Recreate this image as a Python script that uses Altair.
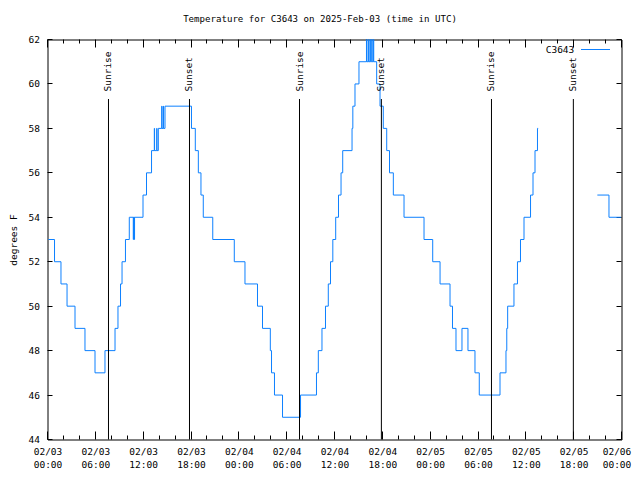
import altair as alt
import pandas as pd

title_text = "Temperature for C3643 on 2025-Feb-03 (time in UTC)"
station = "C3643"
y_title = "degrees F"

# hours since 2025-02-03 00:00 UTC, and the temperature (F) from that time on
hours_a = [
    0.10, 0.88, 1.69, 2.45, 3.45, 4.70, 5.96, 7.21,
    8.47, 8.84, 9.16, 9.35, 9.78, 10.26,
    10.76, 10.79, 10.89, 10.92,
    11.98, 12.42, 13.05,
    13.40, 13.43, 13.70, 13.73, 13.90,
    14.33, 14.36, 14.53, 14.56, 14.74,
    18.06, 18.54, 18.92, 19.25, 19.54, 20.73, 23.43,
    24.77, 26.34, 26.97, 27.95, 28.10, 28.47, 29.48,
    31.74, 33.74, 33.97, 34.43, 34.87, 35.22, 35.50,
    35.79, 36.15, 36.50, 36.82, 37.03, 38.20, 38.30, 38.57, 39.07,
    40.01, 40.06, 40.24, 40.29, 40.45, 40.50, 40.67, 40.72, 40.87, 40.92,
    41.29, 41.71, 42.12, 42.55, 42.90, 43.38, 44.72, 47.23,
    48.32, 49.24, 50.49, 50.80, 51.24, 51.99, 52.74, 53.62, 54.16,
    56.76, 57.51, 57.61, 57.72, 58.51, 58.95, 59.33, 59.77,
    60.59, 60.90, 61.15, 61.46, 61.55,
]
temps_a = [
    53, 52, 51, 50, 49, 48, 47, 48,
    49, 50, 51, 52, 53, 54,
    53, 54, 53, 54,
    55, 56, 57,
    58, 57, 58, 57, 58,
    59, 58, 59, 58, 59,
    58, 57, 56, 55, 54, 53, 52,
    51, 50, 49, 48, 47, 46, 45,
    46, 47, 48, 49, 50, 51, 52,
    53, 54, 55, 56, 57, 58, 59, 60, 61,
    62, 61, 62, 61, 62, 61, 62, 61, 62, 61,
    60, 59, 58, 57, 56, 55, 54, 53,
    52, 51, 50, 49, 48, 49, 48, 47, 46,
    47, 48, 49, 50, 51, 52, 53, 54,
    55, 56, 57, 58, 58,
]
hours_b = [68.97, 70.43, 71.94]
temps_b = [55, 54, 54]

sun_hours = [7.65, 17.81, 31.61, 41.88, 55.69, 65.96]
sun_labels = ["Sunrise", "Sunset", "Sunrise", "Sunset", "Sunrise", "Sunset"]

x_major = [0, 6, 12, 18, 24, 30, 36, 42, 48, 54, 60, 66, 72]
x_minor = [2, 4, 8, 10, 14, 16, 20, 22, 26, 28, 32, 34, 38, 40, 44, 46, 50, 52, 56, 58, 62, 64, 68, 70]
y_ticks = [44, 46, 48, 50, 52, 54, 56, 58, 60, 62]

FONT = "DejaVu Sans Mono"
FS = 9.5
BLUE = "#0d80ff"

df = pd.DataFrame({
    "h": hours_a + hours_b,
    "t": temps_a + temps_b,
    "seg": ["a"] * len(hours_a) + ["b"] * len(hours_b),
})
sun_df = pd.DataFrame({"h": sun_hours, "label": sun_labels})

xs = alt.Scale(domain=[0, 72], nice=False, zero=False)
ys = alt.Scale(domain=[44, 62], nice=False, zero=False)

label_expr = ("['02/0' + (3 + floor(datum.value / 24)), "
              "(datum.value % 24 < 10 ? '0' : '') + (datum.value % 24) + ':00']")

x_label_axis = alt.Axis(orient="bottom", values=x_major, labelExpr=label_expr, ticks=False,
                        domain=False, grid=False, labelFlush=False, labelOverlap=False,
                        labelPadding=7, labelBaseline="top", labelLineHeight=13,
                        labelOffset={"condition": {"test": "datum.value == 72", "value": -5},
                                     "value": 0},
                        labelFont=FONT, labelFontSize=FS, labelColor="black", title=None)
y_label_axis = alt.Axis(orient="left", values=y_ticks, ticks=False, domain=False, grid=False,
                        labelPadding=8, labelFont=FONT, labelFontSize=FS, labelColor="black",
                        labelFlush=False, labelOverlap=False, title=None)

line = alt.Chart(df).mark_line(interpolate="step-after", color=BLUE, strokeWidth=1).encode(
    x=alt.X("h:Q", scale=xs, axis=x_label_axis),
    y=alt.Y("t:Q", scale=ys, axis=y_label_axis),
    detail="seg:N",
)


def tick_axis(orient, values, size):
    return alt.Axis(orient=orient, values=values, labels=False, domain=False, grid=False,
                    ticks=True, tickSize=size, offset=-size, tickColor="black", tickWidth=1,
                    translate=0, title=None)


def tick_layer(xaxis, yaxis):
    return alt.Chart(df).mark_point(opacity=0).encode(
        x=alt.X("h:Q", scale=xs, axis=xaxis),
        y=alt.Y("t:Q", scale=ys, axis=yaxis),
    )


t1 = tick_layer(tick_axis("bottom", x_major, 8), tick_axis("left", y_ticks, 5))
t2 = tick_layer(tick_axis("bottom", x_minor, 4), tick_axis("right", y_ticks, 5))
t3 = tick_layer(tick_axis("top", x_major, 8), None)
t4 = tick_layer(tick_axis("top", x_minor, 4), None)

sun_rules = alt.Chart(sun_df).mark_rule(color="black", strokeWidth=1).encode(
    x=alt.X("h:Q", scale=xs, axis=None),
    y=alt.value(59.5),
    y2=alt.value(400),
)
sun_text = alt.Chart(sun_df).mark_text(angle=270, align="left", baseline="middle", font=FONT,
                                       fontSize=FS, color="black").encode(
    x=alt.X("h:Q", scale=xs, axis=None),
    y=alt.value(52),
    text="label:N",
)

title = alt.Chart(pd.DataFrame({"label": [title_text]})).mark_text(
    font=FONT, fontSize=9.1, color="black", align="center", baseline="middle").encode(
    x=alt.value(272.5), y=alt.value(-20.5), text="label:N")

ytitle = alt.Chart(pd.DataFrame({"label": [y_title]})).mark_text(
    font=FONT, fontSize=FS, color="black", align="center", baseline="middle", angle=270).encode(
    x=alt.value(-34), y=alt.value(200.5), text="label:N")

key_text = alt.Chart(pd.DataFrame({"label": [station]})).mark_text(
    font=FONT, fontSize=FS, color="black", align="right", baseline="middle").encode(
    x=alt.value(526.8), y=alt.value(10), text="label:N")
key_line = alt.Chart(pd.DataFrame({"label": [station]})).mark_rule(color=BLUE, strokeWidth=1).encode(
    x=alt.value(533.5), x2=alt.value(562.5), y=alt.value(10))

chart = alt.layer(
    line, t1, t2, t3, t4, sun_rules, sun_text, title, ytitle, key_text, key_line
).resolve_axis(x="independent", y="independent").properties(
    width=574, height=400,
    autosize=alt.AutoSizeParams(type="none"),
    padding={"left": 39.5, "top": 31.5, "right": 10.5, "bottom": 40},
    background="white",
).configure_view(stroke="black", strokeWidth=1)

chart.save("out.html", embed_options={"renderer": "svg", "actions": False})
